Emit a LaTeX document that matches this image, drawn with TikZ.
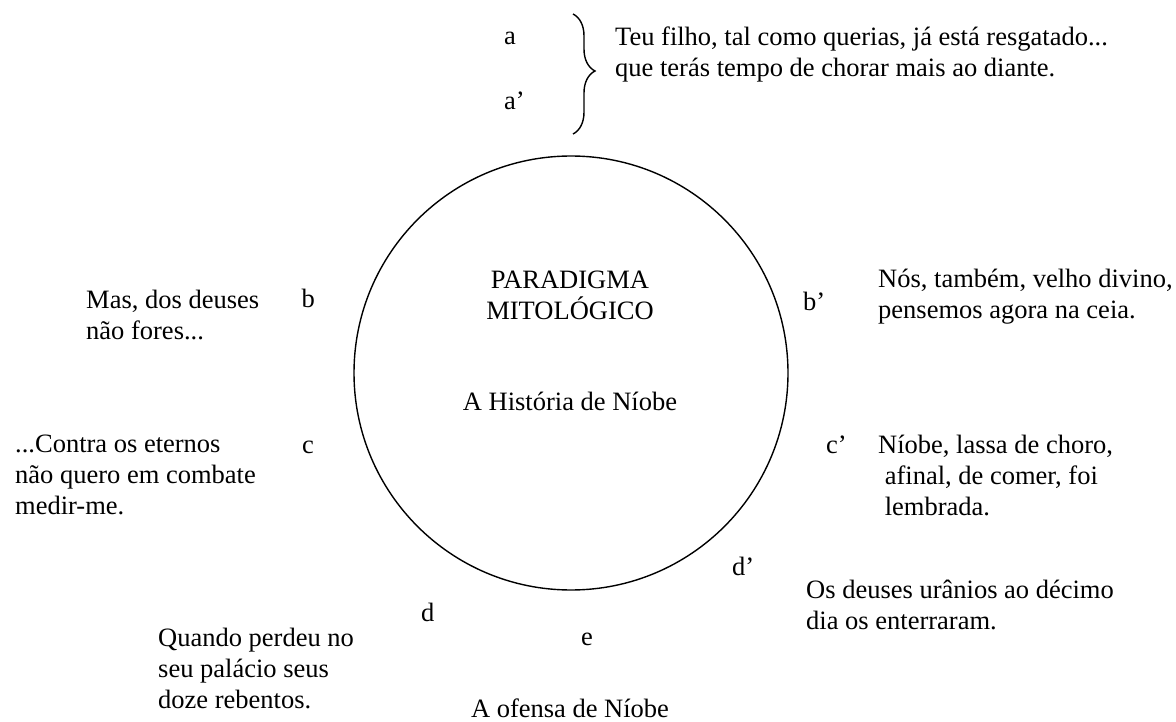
\documentclass[tikz,border=0pt]{standalone}
\usepackage{fontspec}
\setmainfont{Liberation Serif}
\usepackage{tikz}
\usetikzlibrary{positioning, decorations.pathreplacing}
\tikzstyle{txtNode} = [anchor=north west, align=left, inner sep=0pt, font=\fontsize{26.5}{31}\selectfont]
\tikzstyle{lblNode} = [anchor=base west, inner sep=0pt, font=\fontsize{26.5}{31}\selectfont]
\tikzstyle{midNode} = [anchor=base, align=center, inner sep=0pt, font=\fontsize{26.5}{31}\selectfont]
\tikzstyle{circNode} = [circle, draw=black, line width=1.4pt, minimum size=434pt, inner sep=0pt]
\tikzstyle{braceLine} = [draw=black, line width=1.4pt, decorate, decoration={brace, amplitude=22pt, aspect=0.475}]

\begin{document}
\begin{tikzpicture}[x=1pt, y=-1pt]
    \useasboundingbox (0,0) rectangle (1176,722);

    \node (myth) [circNode] at (571,373) {};
    \node (title) [midNode, anchor=north] at (570,270.5) {PARADIGMA\\MITOLÓGICO};
    \node (story) [midNode] at (570,410) {A História de Níobe};
    \node (offense) [midNode] at (570,717) {A ofensa de Níobe};

    % top pair
    \node (a) [lblNode] at (504,45) {a};
    \node (aPrime) [lblNode] at (504,110) {a’};
    \coordinate (braceTop) at (573,14);
    \coordinate (braceBot) at (573,134);
    \draw [braceLine] (braceTop) -- (braceBot);
    \node (textA) [txtNode] at (615,26.5) {Teu filho, tal como querias, já está resgatado...\\que terás tempo de chorar mais ao diante.};

    % left side
    \node (b) [lblNode] at (301.5,308) {b};
    \node (textB) [txtNode] at (86,289.5) {Mas, dos deuses\\não fores...};
    \node (c) [lblNode] at (302,453) {c};
    \node (textC) [txtNode] at (15,434.5) {...Contra os eternos\\não quero em combate\\medir-me.};
    \node (d) [lblNode] at (421,621) {d};
    \node (textD) [txtNode] at (158,627.5) {Quando perdeu no\\seu palácio seus\\doze rebentos.};
    \node (e) [lblNode] at (581,645) {e};

    % right side
    \node (bPrime) [lblNode] at (803,310) {b’};
    \node (textBPrime) [txtNode] at (878,268.5) {Nós, também, velho divino,\\pensemos agora na ceia.};
    \node (cPrime) [lblNode] at (826,453) {c’};
    \node (textCPrime) [txtNode] at (878,434.5) {Níobe, lassa de choro,\\\ afinal, de comer, foi\\\ lembrada.};
    \node (dPrime) [lblNode] at (732,575) {d’};
    \node (textDPrime) [txtNode] at (806,579.5) {Os deuses urânios ao décimo\\dia os enterraram.};
\end{tikzpicture}
\end{document}
